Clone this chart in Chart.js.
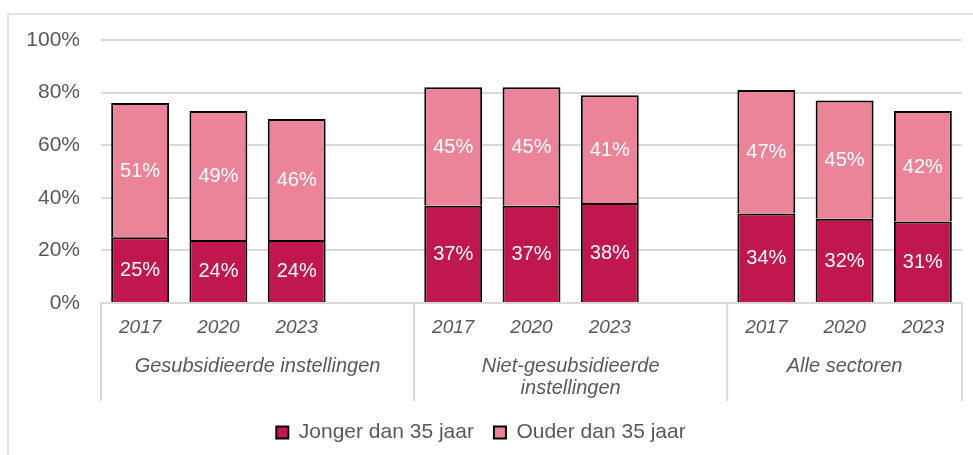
<!DOCTYPE html>
<html lang="nl">
<head>
    <meta charset="UTF-8">
    <title>Leeftijd personeel</title>
    <script src="https://cdn.jsdelivr.net/npm/chart.js"></script>
    <style>
        body { margin: 0; background: #fff; overflow: hidden; }
        .kader { position: absolute; left: 7px; top: 13px; width: 990px; height: 470px; border: 2px solid #e3e3e3; }
        .graph { position: absolute; left: 0; top: 0; width: 973px; height: 455px; }
    </style>
</head>
<body>
    <div class="kader"></div>
    <div class="graph">
        <canvas id="myChartCanvas"></canvas>
    </div>
<script>
    // categorieen (lege plek = ruimte tussen de groepen)
    const jaren = ['2017', '2020', '2023', '', '2017', '2020', '2023', '', '2017', '2020', '2023'];
    const groepen = [['Gesubsidieerde instellingen'], ['Niet-gesubsidieerde', 'instellingen'], ['Alle sectoren']];
    // eerste en laatste categorie-index van elk groepsvak
    const groepVakken = [[0, 3], [4, 7], [8, 10]];

    const jonger = [25, 24, 24, null, 37, 37, 38, null, 34, 32, 31];
    const ouder = [51, 49, 46, null, 45, 45, 41, null, 47, 45, 42];

    const yTicks = [0, 20, 40, 60, 80, 100];

    const grijs = '#595959';
    const lijn = '#d9d9d9';
    const lettertype = "'Liberation Sans', Arial, sans-serif";

    // percentages in de balken
    const labelsPlugin = {
        id: 'labels',
        afterDatasetsDraw(chart) {
            const ctx = chart.ctx;
            ctx.save();
            ctx.fillStyle = '#fff';
            ctx.font = '20px ' + lettertype;
            ctx.textAlign = 'center';
            ctx.textBaseline = 'middle';
            chart.data.datasets.forEach(function (ds, d) {
                chart.getDatasetMeta(d).data.forEach(function (bar, i) {
                    if (ds.data[i] == null) return;
                    ctx.fillText(ds.data[i] + '%', bar.x, (bar.y + bar.base) / 2 + 1);
                });
            });
            ctx.restore();
        }
    };

    // scheidingslijnen en groepsnamen onder de as
    const groepPlugin = {
        id: 'groepen',
        afterDraw(chart) {
            const ctx = chart.ctx;
            const x = chart.scales.x;
            const vak = x.getPixelForValue(1) - x.getPixelForValue(0);
            const onder = chart.chartArea.bottom;
            ctx.save();
            ctx.strokeStyle = lijn;
            ctx.lineWidth = 2;
            let grenzen = [x.getPixelForValue(0) - vak / 2];
            groepVakken.forEach(function (g) { grenzen.push(x.getPixelForValue(g[1]) + vak / 2); });
            grenzen.forEach(function (gx) {
                ctx.beginPath();
                ctx.moveTo(gx, onder);
                ctx.lineTo(gx, onder + 98);
                ctx.stroke();
            });
            ctx.fillStyle = grijs;
            ctx.font = 'italic 20px ' + lettertype;
            ctx.textAlign = 'center';
            ctx.textBaseline = 'middle';
            groepen.forEach(function (regels, g) {
                const links = x.getPixelForValue(groepVakken[g][0]) - vak / 2;
                const rechts = x.getPixelForValue(groepVakken[g][1]) + vak / 2;
                regels.forEach(function (tekst, r) {
                    ctx.fillText(tekst, (links + rechts) / 2, onder + 63 + r * 22);
                });
            });
            ctx.restore();
        }
    };

    const dados = {
        labels: jaren,
        datasets: [{
            label: 'Jonger dan 35 jaar',
            data: jonger,
            backgroundColor: '#c0174f',
            borderColor: '#000',
            borderWidth: 2
        },
        {
            label: 'Ouder dan 35 jaar',
            data: ouder,
            backgroundColor: '#ec8499',
            borderColor: '#000',
            borderWidth: 2
        }]
    };

    const config = {
        type: 'bar',
        data: dados,
        options: {
            responsive: true,
            maintainAspectRatio: false,
            animation: false,
            layout: { padding: { top: 40, right: 11, left: 0, bottom: 2 } },
            datasets: { bar: { barPercentage: 0.74, categoryPercentage: 1 } },
            plugins: {
                tooltip: { enabled: false },
                legend: {
                    position: 'bottom',
                    labels: {
                        boxWidth: 12,
                        boxHeight: 12,
                        padding: 20,
                        color: grijs,
                        font: { family: lettertype, size: 21 }
                    }
                }
            },
            scales: {
                x: {
                    stacked: true,
                    grid: { display: false, drawTicks: false },
                    border: { display: true, color: lijn, width: 2 },
                    ticks: { color: grijs, padding: 13, maxRotation: 0, autoSkip: false, font: { family: lettertype, size: 19, style: 'italic' } },
                    afterFit(scale) { scale.height = 99; }
                },
                y: {
                    stacked: true,
                    min: 0,
                    max: 100,
                    grid: { color: lijn, lineWidth: 2, drawTicks: false },
                    border: { display: false },
                    afterBuildTicks(scale) { scale.ticks = yTicks.map(function (v) { return { value: v }; }); },
                    ticks: {
                        color: grijs,
                        padding: 21,
                        font: { family: lettertype, size: 21 },
                        callback: function (v) { return v + '%'; }
                    },
                    afterFit(scale) { scale.width = 101; }
                }
            }
        },
        plugins: [labelsPlugin, groepPlugin]
    };

    let myChart = new Chart(document.getElementById('myChartCanvas'), config);
</script>
</body>
</html>
